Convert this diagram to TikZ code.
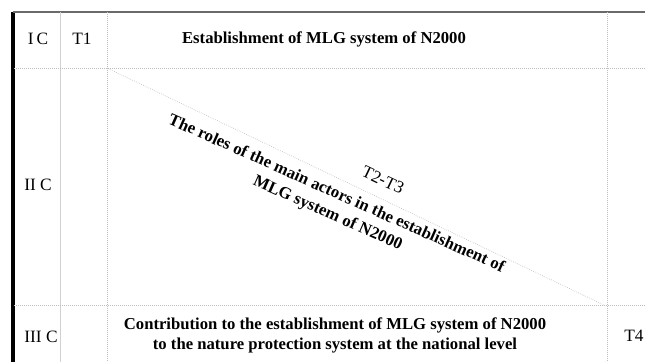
\documentclass[tikz,border=0pt]{standalone}
\usepackage{fontspec}
\setmainfont{Liberation Serif}
\definecolor{rejilla}{HTML}{BDBDBD}
\definecolor{borde}{HTML}{6A6A6A}

\begin{document}
\begin{tikzpicture}[x=0.75pt,y=-0.75pt,
   etiqueta/.style={font=\fontsize{13}{15}\selectfont},
   titulo/.style={font=\bfseries\fontsize{12.5}{15}\selectfont,align=center},
   punteada/.style={rejilla,densely dotted,line width=0.5pt}]

  \useasboundingbox (0,0) rectangle (645,362);

  % marco
  \draw[black,line width=2.4pt] (13,12) -- (13,362);
  \draw[borde,line width=0.8pt] (13,12) -- (645,12);
  \draw[rejilla!70,line width=0.6pt] (60,12) -- (60,362);

  % rejilla punteada
  \foreach \x in {107,607}
    \draw[punteada] (\x,12) -- (\x,362);
  \foreach \y in {68,305}
    \draw[punteada] (14,\y) -- (645,\y);

  % --- diagonal T2-T3 ---
  \coordinate (ini) at (107,68);
  \coordinate (fin) at (604,305);
  \draw[punteada] (ini) -- (fin);

  % --- filas ---
  \node[etiqueta] (c1) at (38,39) {I\,C};
  \node[etiqueta] (t1) at (82,39) {T1};
  \node[titulo]   (e1) at (324,39) {Establishment of MLG system of N2000};

  \node[etiqueta] (c2) at (38,185) {II C};
  \node[titulo,rotate=-24,font=\bfseries\fontsize{12.6}{16}\selectfont] (e2) at (332,204)
    {The roles of the main actors in the establishment of\\MLG system of N2000};
  \node[etiqueta,rotate=-25.4] (t23) at (383,180) {T2-T3};

  \node[etiqueta] (c3) at (41,337) {III C};
  \node[titulo]   (e3) at (335,335)
    {Contribution to the establishment of MLG system of N2000\\to the nature protection system at the national level};
  \node[etiqueta] (t4) at (634,336) {T4};
\end{tikzpicture}
\end{document}
